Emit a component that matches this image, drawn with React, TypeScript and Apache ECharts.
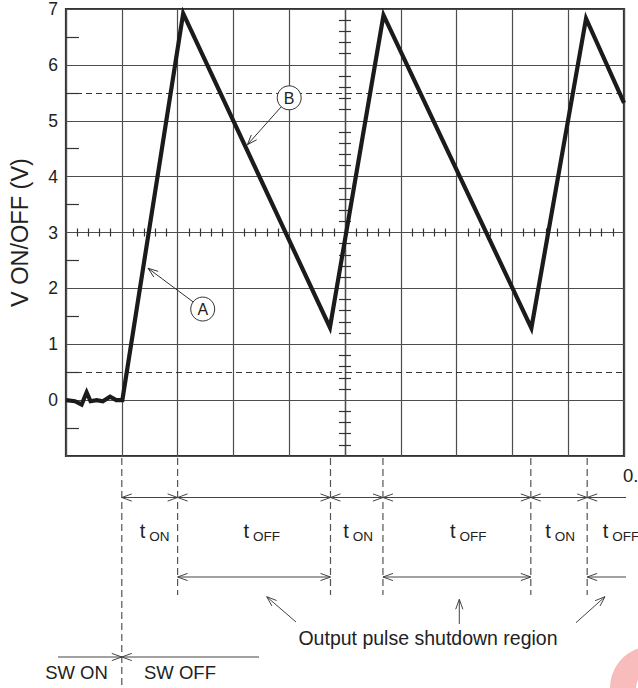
import React, { useEffect, useRef } from "react";
import * as echarts from "echarts";

// ---- data (x in horizontal divisions, y in volts) ----
const waveX = [0, 0.16, 0.28, 0.37, 0.44, 0.55, 0.66, 0.79, 0.9, 1.01, 2.1, 4.73, 5.69, 8.34, 9.32, 10];
const waveV = [0, -0.02, -0.08, 0.14, -0.02, 0, -0.02, 0.06, 0, 0, 6.92, 1.3, 6.89, 1.29, 6.83, 5.32];
const yMin = -1;
const yMax = 7;
const xMin = 0;
const xMax = 10;
const dashedLevels = [5.5, 0.5];
const yAxisTitle = "V ON/OFF (V)";
// timing diagram boundaries (divisions)
const timingMarks = [1.0, 2.0, 4.74, 5.68, 8.33, 9.34];
const timingSubs = ["ON", "OFF", "ON", "OFF", "ON", "OFF"];
const timingLabelLeft = [1.32, 3.18, 4.97, 6.88, 8.59, 9.62];
const shutdownSpans: [number, number | null][] = [
  [2.0, 4.74],
  [5.68, 8.33],
  [9.34, null],
];
const annotations = [
  { label: "A", cx: 2.45, cy: 1.63, tx: 1.47, ty: 2.36 },
  { label: "B", cx: 4.0, cy: 5.41, tx: 3.25, ty: 4.57 },
];
const shutdownText = "Output pulse shutdown region";
const swOnText = "SW ON";
const swOffText = "SW OFF";
const cornerText = "0.";

const FONT = "'Liberation Sans', Arial, Helvetica, sans-serif";
const GRID_LEFT = 63;
const GRID_TOP = 9;
const GRID_W = 561;
const GRID_H = 447;
const LINE = "#444";

function arrowLine(x1: number, y1: number, x2: number, y2: number, headEnd: boolean, headStart: boolean, color = LINE) {
  const els: any[] = [];
  els.push({ type: "line", shape: { x1, y1, x2, y2 }, style: { stroke: color, lineWidth: 1 }, silent: true });
  const head = (hx: number, hy: number, fx: number, fy: number) => {
    const dx = hx - fx, dy = hy - fy;
    const L = Math.sqrt(dx * dx + dy * dy) || 1;
    const ux = dx / L, uy = dy / L;
    const px = -uy, py = ux;
    const len = 10, hw = 3.6;
    return {
      type: "polyline",
      shape: {
        points: [
          [hx - ux * len + px * hw, hy - uy * len + py * hw],
          [hx, hy],
          [hx - ux * len - px * hw, hy - uy * len - py * hw],
        ],
      },
      style: { stroke: color, lineWidth: 1, fill: "none" },
      silent: true,
    };
  };
  if (headEnd) els.push(head(x2, y2, x1, y1));
  if (headStart) els.push(head(x1, y1, x2, y2));
  return els;
}

export default function App() {
  const ref = useRef<HTMLDivElement>(null);
  useEffect(() => {
    if (!ref.current) return;
    const chart = echarts.init(ref.current, undefined, { renderer: "svg" });
    const gridLine = { color: "#4d4d4d", width: 1.2 };
    const tickStyle = { color: "#333", width: 1.2 };
    const centerX = (a: any) => ({
      type: "value",
      gridIndex: 0,
      min: -5,
      max: 5,
      interval: 1,
      position: "bottom",
      axisLine: { show: true, onZero: true, onZeroAxisIndex: 1, lineStyle: gridLine },
      axisTick: { show: false, inside: a },
      minorTick: { show: true, splitNumber: 5, length: 4, lineStyle: tickStyle },
      axisLabel: { show: false },
      splitLine: { show: false },
    });
    const centerY = (a: any) => ({
      type: "value",
      gridIndex: 0,
      min: yMin,
      max: yMax,
      interval: 1,
      position: "left",
      axisLine: { show: true, onZero: true, onZeroAxisIndex: 1, lineStyle: gridLine },
      axisTick: { show: false, inside: a },
      minorTick: { show: true, splitNumber: 5, length: 6, lineStyle: tickStyle },
      axisLabel: { show: false },
      splitLine: { show: false },
    });
    const option: any = {
      animation: false,
      grid: {
        left: GRID_LEFT,
        top: GRID_TOP,
        width: GRID_W,
        height: GRID_H,
        show: true,
        borderColor: "#333",
        borderWidth: 2.2,
        backgroundColor: "transparent",
        containLabel: false,
      },
      xAxis: [
        {
          type: "value",
          min: xMin,
          max: xMax,
          interval: 1,
          axisLine: { show: false, onZero: false },
          axisTick: { show: false },
          axisLabel: { show: false },
          splitLine: { show: true, lineStyle: gridLine },
        },
        centerX(true),
        centerX(false),
      ],
      yAxis: [
        {
          type: "value",
          min: yMin,
          max: yMax,
          interval: 1,
          position: "left",
          axisLine: { show: false, onZero: false },
          axisTick: { show: false, inside: true },
          minorTick: { show: true, splitNumber: 2, length: 13, lineStyle: tickStyle },
          axisLabel: {
            show: true,
            margin: 8,
            fontSize: 17.5,
            fontFamily: FONT,
            color: "#222",
            formatter: (v: number) => (v === yMin ? "" : String(v)),
          },
          splitLine: { show: true, lineStyle: gridLine },
          name: yAxisTitle,
          nameLocation: "middle",
          nameGap: 34,
          nameTextStyle: { fontSize: 23.5, fontFamily: FONT, color: "#222" },
        },
        { type: "value", min: -4, max: 4, show: false, splitLine: { show: false } },
        centerY(true),
        centerY(false),
      ],
      series: [
        {
          type: "line",
          xAxisIndex: 0,
          yAxisIndex: 0,
          data: waveX.map((x, i) => [x, waveV[i]]),
          symbol: "none",
          z: 5,
          lineStyle: { color: "#1b1b1b", width: 4.2, join: "miter", miterLimit: 6 },
          markLine: {
            silent: true,
            symbol: "none",
            label: { show: false },
            lineStyle: { type: [6, 4], color: "#333", width: 1.2 },
            data: dashedLevels.map((v) => ({ yAxis: v })),
          },
        },
      ],
    };
    chart.setOption(option);

    const px = (x: number) => chart.convertToPixel({ xAxisIndex: 0 }, x) as number;
    const py = (v: number) => chart.convertToPixel({ yAxisIndex: 0 }, v) as number;
    const plotBottom = py(yMin);
    const rightEnd = 626;
    const ROW1 = 497.5;
    const ROW2 = 577;
    const g: any[] = [];

    // annotations inside plot
    annotations.forEach((a) => {
      const cx = px(a.cx), cy = py(a.cy), tx = px(a.tx), ty = py(a.ty);
      const r = 12;
      const dx = tx - cx, dy = ty - cy;
      const L = Math.sqrt(dx * dx + dy * dy);
      g.push(...arrowLine(cx + (dx / L) * r, cy + (dy / L) * r, tx, ty, true, false, "#333"));
      g.push({ type: "circle", shape: { cx, cy, r }, style: { stroke: "#333", lineWidth: 1, fill: "#fff" }, z: 10 });
      g.push({
        type: "text",
        x: cx,
        y: cy + 0.5,
        z: 11,
        style: { text: a.label, fontSize: 16, fontFamily: FONT, fill: "#222", align: "center", verticalAlign: "middle" },
      });
    });

    // dashed timing lines
    timingMarks.forEach((m, i) => {
      g.push({
        type: "line",
        shape: { x1: px(m), y1: plotBottom + 2, x2: px(m), y2: i === 0 ? 688 : 595 },
        style: { stroke: "#555", lineWidth: 1.2, lineDash: [7, 4] },
        silent: true,
      });
    });

    // row 1 dimension arrows
    timingMarks.forEach((m, i) => {
      const next = timingMarks[i + 1];
      if (next != null) g.push(...arrowLine(px(m), ROW1, px(next), ROW1, true, true));
      else g.push(...arrowLine(px(m), ROW1, rightEnd, ROW1, false, true));
    });
    // row 1 labels
    timingLabelLeft.forEach((lx, i) => {
      const x = px(lx);
      g.push({ type: "text", x, y: 531, style: { text: "t", fontSize: 20, fontFamily: FONT, fill: "#222", align: "left", verticalAlign: "middle" } });
      g.push({ type: "text", x: x + 9.5, y: 536, style: { text: timingSubs[i], fontSize: 13.5, fontFamily: FONT, fill: "#222", align: "left", verticalAlign: "middle" } });
    });

    // row 2 shutdown spans
    shutdownSpans.forEach(([a, b]) => {
      if (b != null) g.push(...arrowLine(px(a), ROW2, px(b), ROW2, true, true));
      else g.push(...arrowLine(px(a), ROW2, rightEnd, ROW2, false, true));
    });
    // pointer arrows
    g.push(...arrowLine(296, 622, 266.7, 596.7, true, false));
    g.push(...arrowLine(459.3, 624, 459.3, 599.3, true, false));
    g.push(...arrowLine(576, 622.7, 605, 596.7, true, false));
    g.push({ type: "text", x: 428, y: 637.5, style: { text: shutdownText, fontSize: 19.5, fontFamily: FONT, fill: "#222", align: "center", verticalAlign: "middle" } });

    // SW ON / SW OFF
    const swX = px(timingMarks[0]);
    g.push(...arrowLine(58, 657, swX, 657, true, false));
    g.push(...arrowLine(259, 657, swX, 657, true, false));
    g.push({ type: "text", x: 76.5, y: 672.8, style: { text: swOnText, fontSize: 18.5, fontFamily: FONT, fill: "#222", align: "center", verticalAlign: "middle" } });
    g.push({ type: "text", x: 180, y: 672.8, style: { text: swOffText, fontSize: 18.5, fontFamily: FONT, fill: "#222", align: "center", verticalAlign: "middle" } });

    // clipped corner text
    g.push({ type: "text", x: 623, y: 475, style: { text: cornerText, fontSize: 18.5, fontFamily: FONT, fill: "#222", align: "left", verticalAlign: "middle" } });

    // faint logo fragment in corner
    g.push({
      type: "sector",
      shape: { cx: 652, cy: 688, r0: 16, r: 42, startAngle: Math.PI * 1.0, endAngle: Math.PI * 1.6, clockwise: true },
      style: { fill: "#f9bcbc" },
      silent: true,
    });

    chart.setOption({ graphic: g });
    return () => chart.dispose();
  }, []);
  return <div ref={ref} style={{ position: "absolute", left: 0, top: 0, width: 638, height: 688, background: "#fff" }} />;
}
